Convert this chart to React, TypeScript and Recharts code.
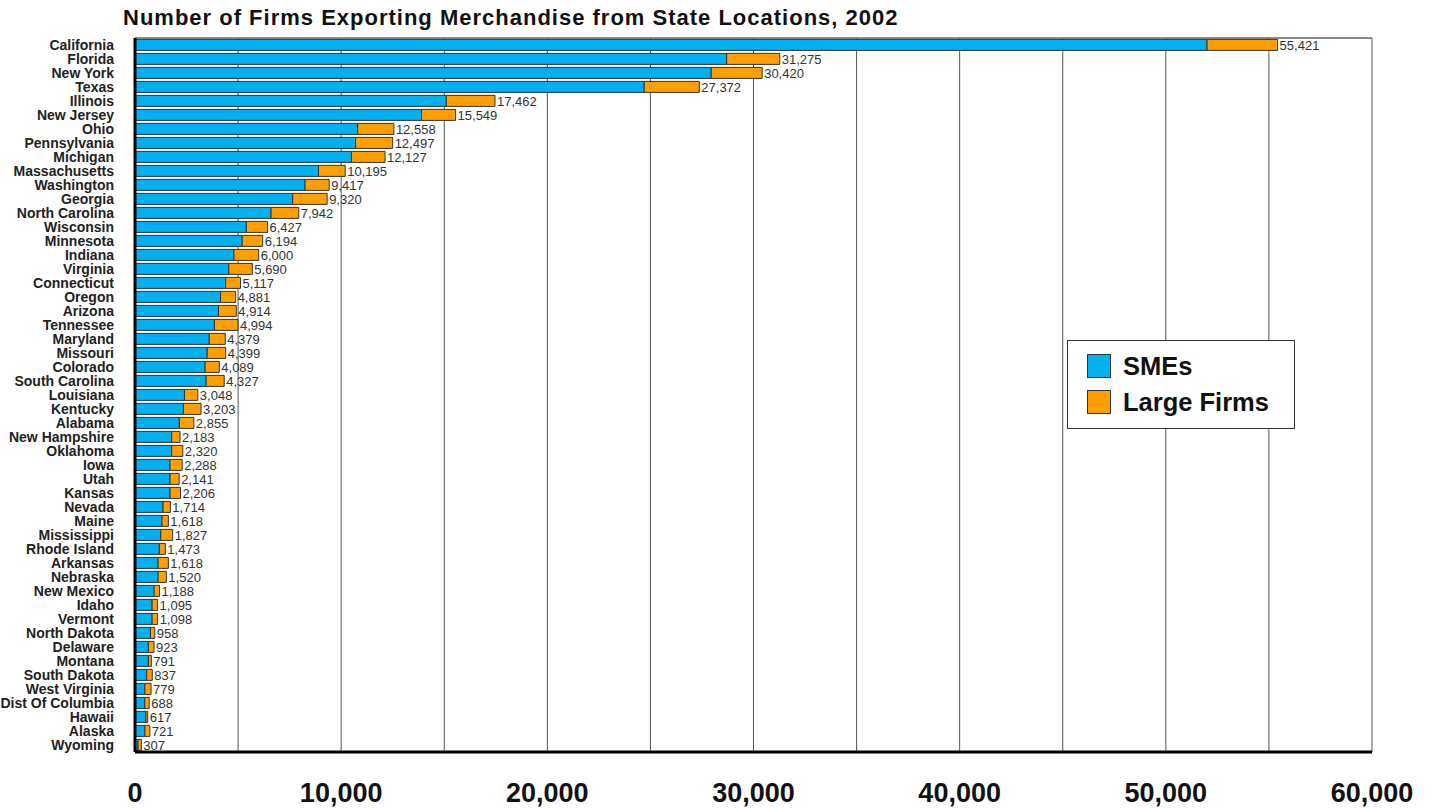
import { BarChart, Bar, XAxis, YAxis, CartesianGrid, LabelList } from "recharts";

const states = [
  "California", "Florida", "New York", "Texas", "Illinois", "New Jersey", "Ohio", "Pennsylvania",
  "Michigan", "Massachusetts", "Washington", "Georgia", "North Carolina", "Wisconsin", "Minnesota",
  "Indiana", "Virginia", "Connecticut", "Oregon", "Arizona", "Tennessee", "Maryland", "Missouri",
  "Colorado", "South Carolina", "Louisiana", "Kentucky", "Alabama", "New Hampshire", "Oklahoma",
  "Iowa", "Utah", "Kansas", "Nevada", "Maine", "Mississippi", "Rhode Island", "Arkansas", "Nebraska",
  "New Mexico", "Idaho", "Vermont", "North Dakota", "Delaware", "Montana", "South Dakota",
  "West Virginia", "Dist Of Columbia", "Hawaii", "Alaska", "Wyoming",
];

const smeFirms = [
  52000, 28700, 27950, 24700, 15100, 13900, 10800, 10700, 10500, 8900, 8250, 7650, 6600, 5400, 5200,
  4800, 4550, 4400, 4150, 4050, 3850, 3600, 3500, 3400, 3450, 2400, 2350, 2150, 1780, 1780,
  1700, 1700, 1700, 1360, 1310, 1250, 1180, 1120, 1120, 930, 830, 830, 750, 650, 650, 570,
  480, 480, 530, 480, 150,
];

const largeFirms = [
  3421, 2575, 2470, 2672, 2362, 1649, 1758, 1797, 1627, 1295, 1167, 1670, 1342, 1027, 994,
  1200, 1140, 717, 731, 864, 1144, 779, 899, 689, 877, 648, 853, 705, 403, 540,
  588, 441, 506, 354, 308, 577, 293, 498, 400, 258, 265, 268, 208, 273, 141, 267,
  299, 208, 87, 241, 157,
];

// printed totals at the bar ends
const totalFirms = [
  55421, 31275, 30420, 27372, 17462, 15549, 12558, 12497, 12127, 10195, 9417, 9320, 7942, 6427, 6194,
  6000, 5690, 5117, 4881, 4914, 4994, 4379, 4399, 4089, 4327, 3048, 3203, 2855, 2183, 2320,
  2288, 2141, 2206, 1714, 1618, 1827, 1473, 1618, 1520, 1188, 1095, 1098, 958, 923, 791, 837,
  779, 688, 617, 721, 307,
];

const xTicks = [0, 5000, 10000, 15000, 20000, 25000, 30000, 35000, 40000, 45000, 50000, 55000, 60000];

const SME_COLOR = "#00B0F0";
const LARGE_COLOR = "#FFA000";
const FONT = "'Liberation Sans', Arial, sans-serif";

const data = states.map((state, i) => ({
  state,
  sme: smeFirms[i],
  large: largeFirms[i],
  total: totalFirms[i],
}));

const fmt = (v: number) => Number(v).toLocaleString("en-US");

function XTick({ x, y, payload }: any) {
  if (payload.value % 10000 !== 0) return null;
  return (
    <text x={x} y={y + 50} textAnchor="middle" fontSize={27} fontWeight="bold" fill="#111" fontFamily={FONT}>
      {fmt(payload.value)}
    </text>
  );
}

export default function App() {
  return (
    <div
      style={{
        position: "absolute",
        left: 0,
        top: 0,
        width: 1439,
        height: 809,
        background: "#fff",
        fontFamily: FONT,
      }}
    >
      <div
        style={{
          position: "absolute",
          left: 123,
          top: 5,
          fontSize: 22,
          fontWeight: "bold",
          letterSpacing: 1,
          color: "#111",
          whiteSpace: "nowrap",
        }}
      >
        Number of Firms Exporting Merchandise from State Locations, 2002
      </div>

      <BarChart
        width={1439}
        height={809}
        data={data}
        layout="vertical"
        margin={{ top: 38, right: 67, bottom: 0, left: 0 }}
        barCategoryGap="10%"
        style={{ fontFamily: FONT }}
      >
        <CartesianGrid vertical horizontal={false} stroke="#555" strokeWidth={1} />
        {/* top frame line */}
        <CartesianGrid
          vertical={false}
          horizontal
          stroke="#666"
          strokeWidth={1.5}
          horizontalCoordinatesGenerator={({ offset }: any) => [offset.top]}
        />
        <XAxis
          type="number"
          domain={[0, 60000]}
          ticks={xTicks}
          interval={0}
          height={57}
          tickLine={false}
          tickSize={0}
          tickMargin={0}
          axisLine={{ stroke: "#000", strokeWidth: 3 }}
          tick={<XTick />}
        />
        <YAxis
          type="category"
          dataKey="state"
          width={135}
          interval={0}
          tickLine={false}
          tickSize={0}
          tickMargin={21}
          axisLine={{ stroke: "#000", strokeWidth: 3 }}
          tick={{ fontSize: 14, fontWeight: "bold", fill: "#222", fontFamily: FONT }}
        />
        <Bar dataKey="sme" name="SMEs" stackId="a" fill={SME_COLOR} stroke="#333" strokeWidth={1} isAnimationActive={false} />
        <Bar dataKey="large" name="Large Firms" stackId="a" fill={LARGE_COLOR} stroke="#333" strokeWidth={1} isAnimationActive={false}>
          <LabelList
            dataKey="total"
            position="right"
            offset={2}
            formatter={(v: any) => fmt(v)}
            style={{ fontSize: 13, fill: "#333", fontFamily: FONT }}
          />
        </Bar>
      </BarChart>

      <div
        style={{
          position: "absolute",
          left: 1067,
          top: 340,
          width: 226,
          height: 87,
          border: "1.5px solid #333",
          background: "#fff",
        }}
      >
        {[
          { label: "SMEs", color: SME_COLOR, top: 12 },
          { label: "Large Firms", color: LARGE_COLOR, top: 48 },
        ].map((item) => (
          <div key={item.label} style={{ position: "absolute", left: 19, top: item.top, display: "flex", alignItems: "center" }}>
            <div style={{ width: 22, height: 22, background: item.color, border: "1.5px solid #333" }} />
            <span style={{ marginLeft: 12, fontSize: 25.5, fontWeight: "bold", color: "#111", lineHeight: "26px" }}>
              {item.label}
            </span>
          </div>
        ))}
      </div>
    </div>
  );
}
